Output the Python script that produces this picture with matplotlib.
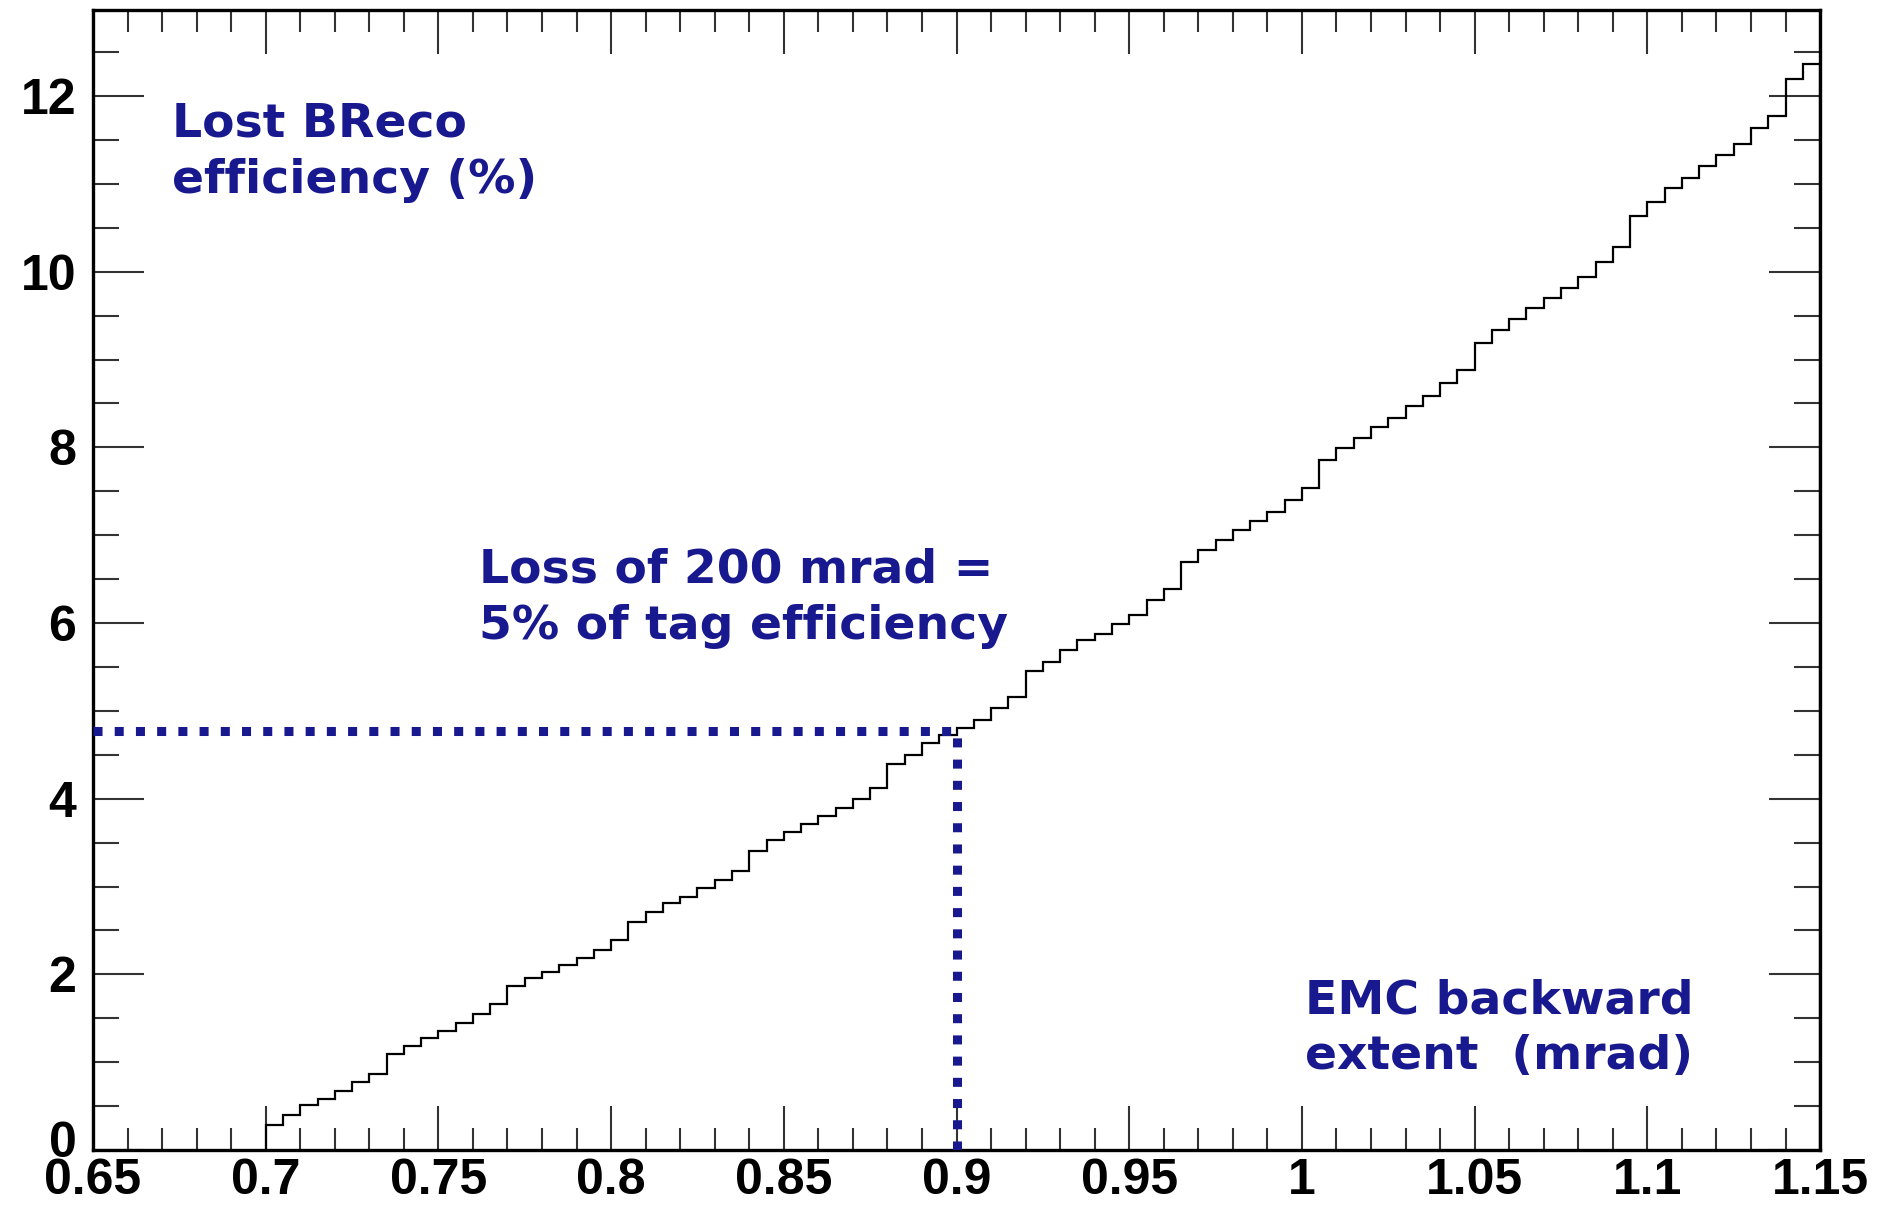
import numpy as np
from matplotlib import pyplot as plt
from matplotlib import transforms
from matplotlib.ticker import MultipleLocator

# lost BReco efficiency (%) per 5 mrad bin, EMC backward extent 0.70 -> 1.15
lost_eff = [
    0.285, 0.40, 0.51, 0.58, 0.675, 0.78, 0.87, 1.09, 1.19, 1.28,
    1.35, 1.45, 1.55, 1.66, 1.87, 1.955, 2.03, 2.11, 2.19, 2.28,
    2.39, 2.60, 2.71, 2.81, 2.885, 2.98, 3.075, 3.18, 3.41, 3.53,
    3.62, 3.71, 3.80, 3.89, 4.00, 4.12, 4.40, 4.50, 4.63, 4.73,
    4.80, 4.90, 5.03, 5.16, 5.45, 5.56, 5.69, 5.81, 5.88, 5.99,
    6.09, 6.26, 6.39, 6.69, 6.83, 6.95, 7.06, 7.16, 7.27, 7.40,
    7.54, 7.86, 7.99, 8.11, 8.23, 8.34, 8.47, 8.59, 8.73, 8.88,
    9.19, 9.34, 9.46, 9.59, 9.70, 9.81, 9.94, 10.11, 10.28, 10.63,
    10.79, 10.95, 11.07, 11.20, 11.33, 11.45, 11.64, 11.77, 12.19, 12.36,
]
X_LO, X_HI = 0.70, 1.15

# working point: 200 mrad lost
cut_x = 0.90
cut_y = 4.77

x_ticks = [0.65, 0.7, 0.75, 0.8, 0.85, 0.9, 0.95, 1, 1.05, 1.1, 1.15]
x_labels = ["0.65", "0.7", "0.75", "0.8", "0.85", "0.9", "0.95", "1", "1.05", "1.1", "1.15"]
y_ticks = [0, 2, 4, 6, 8, 10, 12]

NAVY = "#18188f"
BLUE_FONT = dict(family="DejaVu Sans", fontweight="bold", color=NAVY, fontsize=34)

fig = plt.figure(figsize=(18.9, 12.07), dpi=100)
ax = fig.add_axes([0.0492, 0.0472, 0.9138, 0.9445])

edges = np.linspace(X_LO, X_HI, len(lost_eff) + 1)
ax.stairs(lost_eff, edges, baseline=0, color="black", linewidth=1.6, zorder=3)

ax.plot([0.65, cut_x], [cut_y, cut_y], color=NAVY, linewidth=6.5,
        linestyle=(0, (1, 1.35)), dash_capstyle="butt", zorder=4)
ax.plot([cut_x, cut_x], [0, cut_y], color=NAVY, linewidth=6.5,
        linestyle=(0, (1, 1.35)), dash_capstyle="butt", zorder=4)

ax.text(0.673, 11.36, "Lost BReco\nefficiency (%)", va="center", ha="left",
        linespacing=1.32, **BLUE_FONT)
ax.text(0.7618, 6.28, "Loss of 200 mrad =\n5% of tag efficiency", va="center",
        ha="left", linespacing=1.32, **BLUE_FONT)
ax.text(1.001, 1.38, "EMC backward\nextent  (mrad)", va="center", ha="left",
        linespacing=1.32, **BLUE_FONT)

ax.set_xlim(0.65, 1.15)
ax.set_ylim(0, 12.98)
ax.set_xticks(x_ticks)
ax.set_xticklabels(x_labels)
ax.set_yticks(y_ticks)
ax.xaxis.set_minor_locator(MultipleLocator(0.01))
ax.yaxis.set_minor_locator(MultipleLocator(0.5))

ax.tick_params(which="both", direction="in", top=True, right=True, width=1.5,
               color="#333333")
ax.tick_params(axis="x", which="major", length=32, pad=6)
ax.tick_params(axis="x", which="minor", length=16)
ax.tick_params(axis="y", which="major", length=37, pad=12)
ax.tick_params(axis="y", which="minor", length=19)

for lab in ax.get_xticklabels() + ax.get_yticklabels():
    lab.set_family("Liberation Sans")
    lab.set_fontweight("bold")
    lab.set_fontsize(36)

# lift the "0" a little so it clears the x labels
zero_lab = ax.get_yticklabels()[0]
zero_lab.set_transform(zero_lab.get_transform()
                       + transforms.ScaledTranslation(0, 8 / 72, fig.dpi_scale_trans))

for sp in ax.spines.values():
    sp.set_linewidth(2.4)

fig.savefig("out.png", dpi=100, facecolor="white")
